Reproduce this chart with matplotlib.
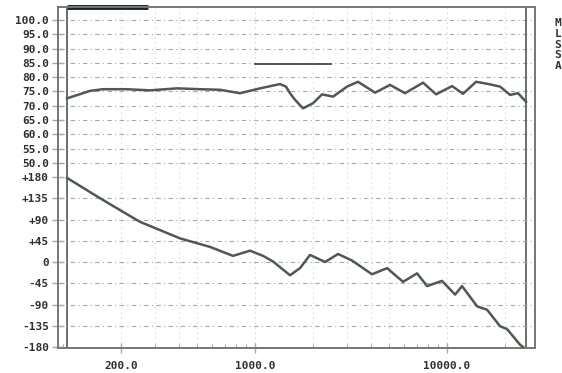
import numpy as np
import matplotlib.pyplot as plt
from matplotlib.ticker import FixedLocator, NullFormatter

# magnitude trace (dB)
mag_freq = [105, 123, 138, 161, 215, 284, 392, 517, 658, 835, 1062, 1349, 1450,
            1521, 1620, 1778, 2004, 2233, 2547, 3012, 3436, 4217, 5050, 6043,
            7498, 8770, 10620, 12110, 14160, 16750, 18880, 21290, 23420, 25770]
mag_db = [72.6, 74.1, 75.2, 75.8, 75.8, 75.4, 76.1, 75.8, 75.6, 74.4, 76.1, 77.6, 76.7,
          74.4, 72.0, 69.1, 70.9, 74.0, 73.2, 76.7, 78.4, 74.6, 77.3, 74.4,
          78.1, 74.0, 76.9, 74.2, 78.4, 77.5, 76.7, 73.8, 74.4, 71.4]

# phase trace (degrees)
ph_freq = [105, 111, 156, 198, 252, 407, 583, 768, 942, 1101, 1241, 1521, 1715,
           1934, 2316, 2706, 3203, 4065, 4870, 5900, 6979, 7870, 9410, 11010,
           11970, 14340, 16150, 18880, 20520, 23980, 24860]
ph_deg = [178, 172, 135, 110, 85, 50, 32, 13, 24, 13, 1, -28, -13,
          15, 0, 17, 3, -26, -13, -42, -24, -51, -40, -69,
          -51, -94, -101, -136, -142, -175, -180]

mag_ticks = [100, 95, 90, 85, 80, 75, 70, 65, 60, 55, 50]
mag_labels = ['100.0', '95.0', '90.0', '85.0', '80.0', '75.0', '70.0', '65.0', '60.0', '55.0', '50.0']
ph_ticks = [180, 135, 90, 45, 0, -45, -90, -135, -180]
ph_labels = ['+180', '+135', '+90', '+45', '0', '-45', '-90', '-135', '-180']
x_ticks = [200, 1000, 10000]
x_labels = ['200.0', '1000.0', '10000.0']
x_grid = [200, 300, 400, 500, 1000, 2000, 3000, 4000, 5000, 10000, 20000]

f_start, f_stop = 105, 25800      # measurement band edges
ref_freq = [1000, 2500]            # reference marker
ref_db = [84.6, 84.6]
busy_freq = [105, 277]             # thick bar on top edge

ink = '#2c332c'
trace = '#4f5a4f'
gridc = '#a3aba3'
font = {'family': 'DejaVu Sans Mono', 'weight': 'bold', 'size': 8}

fig = plt.figure(figsize=(5.62, 3.73), dpi=100)
ax = fig.add_axes([58 / 562, 25 / 373, 477 / 562, 341 / 373])
ax.set_xscale('log')
ax.set_xlim(94.2, 28700)
ax.set_ylim(-14.7, 104.55)

ax2 = ax.twinx()
ax2.set_ylim(-182.1, 540)
ax2.yaxis.set_ticks_position('left')

# grid
for v in mag_ticks:
    ax.axhline(v, color=gridc, lw=0.8, ls=(0, (4, 3, 1, 3)), zorder=1)
for v in ph_ticks[1:-1]:
    ax2.axhline(v, color=gridc, lw=0.8, ls=(0, (4, 3, 1, 3)), zorder=1)
for f in x_grid:
    ax.axvline(f, color=gridc, lw=0.6, ls=(0, (1, 5)), zorder=1)

ax.axvline(f_start, color=trace, lw=1.2)
ax.axvline(f_stop, color=trace, lw=1.2)
ax.plot(busy_freq, [1, 1], transform=ax.get_xaxis_transform(), color='#1e241e',
        lw=3.5, solid_capstyle='butt', clip_on=False)
ax.plot(ref_freq, ref_db, color=trace, lw=1.4)

ax.plot(mag_freq, mag_db, color=trace, lw=1.8, zorder=3)
ax2.plot(ph_freq, ph_deg, color=trace, lw=1.8, zorder=3)

# ticks and labels
ax.set_yticks(mag_ticks)
ax.set_yticklabels(mag_labels, fontdict=font, color=ink)
ax2.set_yticks(ph_ticks)
ax2.set_yticklabels(ph_labels, fontdict=font, color=ink)
ax.set_xticks(x_ticks)
ax.set_xticklabels(x_labels, fontdict=font, color=ink)
ax.xaxis.set_minor_locator(FixedLocator([f * m for f in (100, 1000, 10000) for m in range(1, 10)]))
ax.xaxis.set_minor_formatter(NullFormatter())

for a in (ax, ax2):
    a.tick_params(axis='y', which='both', direction='inout', length=9, width=1,
                  color=gridc, pad=2)
ax.tick_params(axis='x', which='major', direction='inout', length=7, width=1, color=gridc, pad=6)
ax.tick_params(axis='x', which='minor', direction='in', length=3, width=0.8, color=gridc)

for a in (ax, ax2):
    for s in a.spines.values():
        s.set_color('#6f7a6f')
        s.set_linewidth(1.2)

fig.text(558 / 562, 1 - 18 / 373, 'M\nL\nS\nS\nA', ha='center', va='top',
         fontdict=font, color=ink, linespacing=1.1)

fig.savefig('out.png', dpi=100)
